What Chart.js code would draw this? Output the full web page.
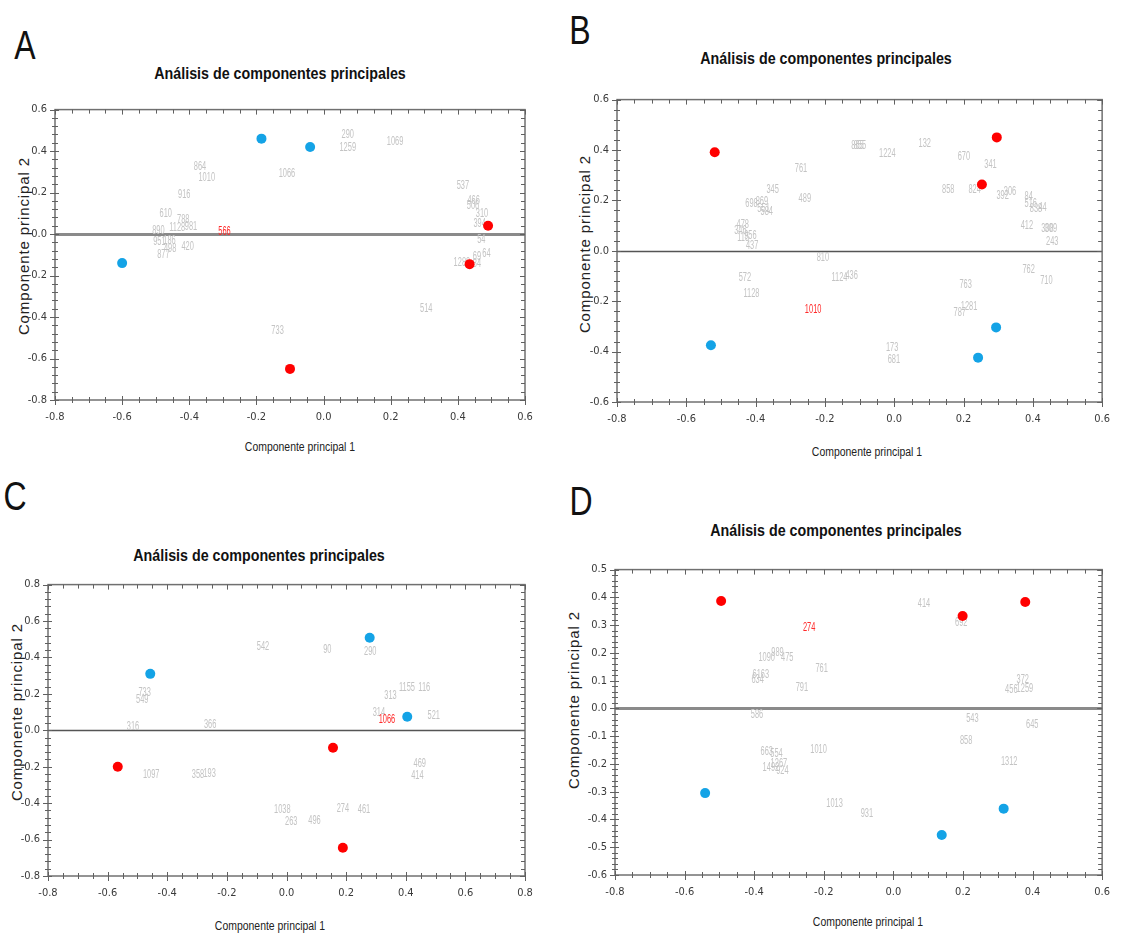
<!DOCTYPE html>
<html>
<head>
<meta charset="utf-8">
<script src="https://cdn.jsdelivr.net/npm/chart.js@4.4.1/dist/chart.umd.min.js"></script>
<style>
  html, body { margin: 0; padding: 0; background: #ffffff; }
  body { width: 1121px; height: 936px; position: relative; overflow: hidden;
         font-family: "Liberation Sans", Arial, sans-serif; }
  canvas { position: absolute; }
  .txt { position: absolute; white-space: nowrap; color: #111; line-height: 1; }
  .letter { font-size: 40px; font-weight: 400; color: #111; }
  .title { font-size: 17px; font-weight: bold; }
  .xlab { font-size: 12px; color: #222; }
  .ylab { font-size: 15px; color: #222; letter-spacing: 0.9px; }
</style>
</head>
<body>

<div class="txt letter" style="left:25px;top:45px;transform:translate(-50%,-50%) scaleX(0.8)">A</div>
<div class="txt letter" style="left:580px;top:30px;transform:translate(-50%,-50%) scaleX(0.8)">B</div>
<div class="txt letter" style="left:15px;top:496px;transform:translate(-50%,-50%) scaleX(0.8)">C</div>
<div class="txt letter" style="left:581px;top:501px;transform:translate(-50%,-50%) scaleX(0.8)">D</div>

<div class="txt title" style="left:280px;top:73px;transform:translate(-50%,-50%) scaleX(0.84)">Análisis de componentes principales</div>
<div class="txt title" style="left:826px;top:58px;transform:translate(-50%,-50%) scaleX(0.84)">Análisis de componentes principales</div>
<div class="txt title" style="left:259px;top:555px;transform:translate(-50%,-50%) scaleX(0.84)">Análisis de componentes principales</div>
<div class="txt title" style="left:836px;top:530px;transform:translate(-50%,-50%) scaleX(0.84)">Análisis de componentes principales</div>

<div class="txt xlab" style="left:300px;top:447px;transform:translate(-50%,-50%) scaleX(0.87)">Componente principal 1</div>
<div class="txt xlab" style="left:867px;top:452px;transform:translate(-50%,-50%) scaleX(0.87)">Componente principal 1</div>
<div class="txt xlab" style="left:270px;top:926px;transform:translate(-50%,-50%) scaleX(0.87)">Componente principal 1</div>
<div class="txt xlab" style="left:868px;top:922px;transform:translate(-50%,-50%) scaleX(0.87)">Componente principal 1</div>

<div class="txt ylab" style="left:23px;top:246px;transform:translate(-50%,-50%) rotate(-90deg)">Componente principal 2</div>
<div class="txt ylab" style="left:584px;top:244px;transform:translate(-50%,-50%) rotate(-90deg)">Componente principal 2</div>
<div class="txt ylab" style="left:16px;top:712px;transform:translate(-50%,-50%) rotate(-90deg)">Componente principal 2</div>
<div class="txt ylab" style="left:573px;top:700px;transform:translate(-50%,-50%) rotate(-90deg)">Componente principal 2</div>

<canvas id="panelA" width="560" height="350" style="left:0px;top:95px"></canvas>
<canvas id="panelB" width="556" height="355" style="left:565px;top:85px"></canvas>
<canvas id="panelC" width="560" height="345" style="left:0px;top:570px"></canvas>
<canvas id="panelD" width="556" height="360" style="left:565px;top:555px"></canvas>

<script>
// ---- Panel A: sample labels, reference points ----
const aNames = ['864','1010','916','610','788','1128','981','890','951','186','498','877','420','566','1066','733','290','1259','1069','537','466','506','310','394','54','64','69','1288','84','514'];
const aX = [-0.368,-0.348,-0.415,-0.47,-0.418,-0.436,-0.395,-0.492,-0.489,-0.459,-0.457,-0.477,-0.405,-0.295,-0.109,-0.137,0.072,0.072,0.213,0.415,0.447,0.445,0.472,0.465,0.47,0.485,0.457,0.412,0.457,0.306];
const aY = [0.326,0.27,0.191,0.10,0.07,0.03,0.034,0.018,-0.038,-0.033,-0.07,-0.099,-0.062,0.01,0.29,-0.466,0.48,0.416,0.443,0.231,0.163,0.135,0.099,0.05,-0.026,-0.094,-0.11,-0.137,-0.145,-0.358];
const aHighlight = ['566'];
const aRedX = [-0.1, 0.49, 0.435];
const aRedY = [-0.65, 0.04, -0.145];
const aBlueX = [-0.6, -0.185, -0.04];
const aBlueY = [-0.14, 0.46, 0.42];

// ---- Panel B ----
const bNames = ['761','345','489','698','869','584','551','478','346','115','956','437','810','572','1128','1124','436','1010','865','855','1224','132','670','341','858','824','392','306','84','516','838','44','412','308','309','243','762','710','763','1281','787','173','681'];
const bX = [-0.269,-0.351,-0.258,-0.412,-0.382,-0.368,-0.377,-0.437,-0.444,-0.436,-0.415,-0.41,-0.206,-0.431,-0.412,-0.158,-0.123,-0.234,-0.106,-0.099,-0.02,0.088,0.201,0.278,0.156,0.232,0.313,0.334,0.388,0.394,0.409,0.428,0.383,0.442,0.452,0.456,0.388,0.439,0.206,0.216,0.189,-0.006,-0.001];
const bY = [0.326,0.241,0.205,0.186,0.196,0.156,0.169,0.104,0.078,0.052,0.061,0.022,-0.026,-0.108,-0.17,-0.108,-0.098,-0.235,0.417,0.417,0.384,0.426,0.374,0.341,0.244,0.241,0.219,0.235,0.215,0.186,0.169,0.172,0.1,0.088,0.088,0.035,-0.076,-0.117,-0.135,-0.222,-0.244,-0.385,-0.434];
const bHighlight = ['1010'];
const bRedX = [-0.518, 0.296, 0.253];
const bRedY = [0.391, 0.45, 0.263];
const bBlueX = [-0.529, 0.294, 0.242];
const bBlueY = [-0.375, -0.304, -0.424];

// ---- Panel C ----
const cNames = ['733','549','316','366','1097','358','193','542','1038','263','90','290','313','1155','116','314','1066','521','469','414','274','461','496'];
const cX = [-0.476,-0.484,-0.515,-0.256,-0.454,-0.297,-0.258,-0.079,-0.014,0.016,0.137,0.281,0.349,0.404,0.462,0.31,0.337,0.494,0.447,0.439,0.189,0.26,0.094];
const cY = [0.205,0.166,0.022,0.029,-0.242,-0.245,-0.24,0.461,-0.438,-0.503,0.443,0.431,0.188,0.232,0.232,0.094,0.056,0.079,-0.185,-0.249,-0.431,-0.434,-0.494];
const cHighlight = ['1066'];
const cRedX = [-0.566, 0.156, 0.189];
const cRedY = [-0.2, -0.096, -0.645];
const cBlueX = [-0.457, 0.279, 0.405];
const cBlueY = [0.31, 0.508, 0.074];

// ---- Panel D ----
const dNames = ['274','1090','989','475','761','6163','634','791','586','663','554','1267','1492','924','1010','1013','414','692','372','456','1259','543','645','858','1312','931'];
const dX = [-0.242,-0.364,-0.333,-0.305,-0.206,-0.381,-0.39,-0.263,-0.392,-0.364,-0.336,-0.329,-0.352,-0.319,-0.215,-0.169,0.088,0.195,0.372,0.339,0.378,0.227,0.399,0.209,0.333,-0.076];
const dY = [0.29,0.181,0.199,0.183,0.143,0.121,0.104,0.076,-0.024,-0.156,-0.162,-0.2,-0.212,-0.226,-0.149,-0.343,0.377,0.308,0.104,0.068,0.071,-0.036,-0.057,-0.117,-0.192,-0.379];
const dHighlight = ['274'];
const dRedX = [-0.495, 0.199, 0.379];
const dRedY = [0.387, 0.333, 0.383];
const dBlueX = [-0.541, 0.317, 0.139];
const dBlueY = [-0.305, -0.361, -0.456];

// axis ranges: [min, max, major step, minor divisions]
const aXAxis = [-0.8, 0.6, 0.2, 4], aYAxis = [-0.8, 0.6, 0.2, 5];
const bXAxis = [-0.8, 0.6, 0.2, 4], bYAxis = [-0.6, 0.6, 0.2, 5];
const cXAxis = [-0.8, 0.8, 0.2, 4], cYAxis = [-0.8, 0.8, 0.2, 5];
const dXAxis = [-0.8, 0.6, 0.2, 4], dYAxis = [-0.6, 0.5, 0.1, 5];

const zip = (xs, ys) => xs.map((v, i) => ({ x: v, y: ys[i] }));

// frame, zero line, tick marks and sample labels
const pcaDecor = {
  id: 'pcaDecor',
  beforeDatasetsDraw(chart, args, opts) {
    const { ctx, chartArea: a, scales: { x, y } } = chart;
    ctx.save();
    // horizontal line at PC2 = 0
    const y0 = Math.round(y.getPixelForValue(0)) + 0.5;
    ctx.strokeStyle = opts.zeroColor;
    ctx.lineWidth = opts.zeroWidth;
    ctx.beginPath(); ctx.moveTo(a.left, y0); ctx.lineTo(a.right, y0); ctx.stroke();

    // frame
    ctx.strokeStyle = '#707070';
    ctx.lineWidth = 1.5;
    ctx.strokeRect(a.left, a.top, a.right - a.left, a.bottom - a.top);

    // tick marks on all four sides
    ctx.lineWidth = 1;
    ctx.strokeStyle = '#606060';
    const drawTicks = (scale, ax, horizontal) => {
      const [mn, mx, step, div] = ax;
      const minor = step / div;
      const n = Math.round((mx - mn) / minor);
      ctx.beginPath();
      for (let i = 0; i <= n; i++) {
        const v = mn + i * minor;
        const p = Math.round(scale.getPixelForValue(v)) + 0.5;
        const major = i % div === 0;
        const out = major ? 5 : 3;
        const inn = major ? 4 : 3;
        if (horizontal) {
          ctx.moveTo(p, a.bottom - inn); ctx.lineTo(p, a.bottom + out);
          ctx.moveTo(p, a.top); ctx.lineTo(p, a.top + inn + 1);
        } else {
          ctx.moveTo(a.left - out, p); ctx.lineTo(a.left + inn, p);
          ctx.moveTo(a.right - inn - 1, p); ctx.lineTo(a.right, p);
        }
      }
      ctx.stroke();
    };
    drawTicks(x, opts.xAxis, true);
    drawTicks(y, opts.yAxis, false);

    // sample labels, narrow grey text centred on their coordinates
    const meta = chart.getDatasetMeta(0);
    const names = chart.data.datasets[0].names;
    ctx.textAlign = 'center';
    ctx.textBaseline = 'middle';
    ctx.font = '12px "Liberation Sans", Arial, sans-serif';
    meta.data.forEach((el, i) => {
      const hl = opts.highlight.includes(names[i]);
      ctx.fillStyle = hl ? '#ff2a2a' : '#c4c4c4';
      ctx.save();
      ctx.translate(el.x, el.y);
      ctx.scale(0.62, 1);
      ctx.fillText(names[i], 0, 0);
      ctx.restore();
    });
    ctx.restore();
  }
};

const tickFont = { family: '"Liberation Sans Narrow", "DejaVu Sans Condensed", "Arial Narrow", "Liberation Sans", sans-serif', size: 11 };
const fmt = v => (Math.abs(v) < 1e-9 ? '0.0' : Number(v).toFixed(1));

function makePanel(id, canvasBox, plot, names, xs, ys, redX, redY, blueX, blueY, highlight, xAxis, yAxis, zeroColor, zeroWidth) {
  const yW = 40, xH = 30;
  const padding = {
    left: plot.L - canvasBox.left - yW,
    top: plot.T - canvasBox.top,
    right: canvasBox.left + canvasBox.width - plot.R,
    bottom: canvasBox.top + canvasBox.height - plot.B - xH
  };
  new Chart(document.getElementById(id), {
    type: 'scatter',
    data: {
      datasets: [
        { names: names, data: zip(xs, ys), pointRadius: 0, pointHoverRadius: 0, backgroundColor: 'rgba(0,0,0,0)', borderWidth: 0 },
        { data: zip(redX, redY), pointRadius: 5, backgroundColor: '#ff0000', borderColor: '#ff0000', borderWidth: 0 },
        { data: zip(blueX, blueY), pointRadius: 5, backgroundColor: '#14a3e6', borderColor: '#14a3e6', borderWidth: 0 }
      ]
    },
    options: {
      responsive: false,
      animation: false,
      devicePixelRatio: 1,
      layout: { padding },
      plugins: {
        legend: { display: false },
        tooltip: { enabled: false },
        pcaDecor: { xAxis, yAxis, highlight, zeroColor, zeroWidth }
      },
      scales: {
        x: {
          type: 'linear', min: xAxis[0], max: xAxis[1],
          afterFit: s => { s.height = xH; },
          grid: { display: false, drawTicks: false, tickLength: 0 },
          border: { display: false },
          ticks: { stepSize: xAxis[2], padding: 11, font: tickFont, color: '#3a3a3a', callback: fmt, maxRotation: 0, autoSkip: false }
        },
        y: {
          type: 'linear', min: yAxis[0], max: yAxis[1],
          afterFit: s => { s.width = yW; },
          grid: { display: false, drawTicks: false, tickLength: 0 },
          border: { display: false },
          ticks: { stepSize: yAxis[2], padding: 8, font: tickFont, color: '#3a3a3a', callback: fmt, autoSkip: false }
        }
      }
    },
    plugins: [pcaDecor]
  });
}

makePanel('panelA', { left: 0, top: 95, width: 560, height: 350 }, { L: 55, T: 109, R: 525, B: 400 },
  aNames, aX, aY, aRedX, aRedY, aBlueX, aBlueY, aHighlight, aXAxis, aYAxis, '#8a8a8a', 3);
makePanel('panelB', { left: 565, top: 85, width: 556, height: 355 }, { L: 617, T: 95, R: 1110, B: 402 },
  bNames, bX, bY, bRedX, bRedY, bBlueX, bBlueY, bHighlight, bXAxis, bYAxis, '#555555', 1.5);
makePanel('panelC', { left: 0, top: 570, width: 560, height: 345 }, { L: 48, T: 580, R: 525, B: 876 },
  cNames, cX, cY, cRedX, cRedY, cBlueX, cBlueY, cHighlight, cXAxis, cYAxis, '#555555', 1.5);
makePanel('panelD', { left: 565, top: 555, width: 556, height: 360 }, { L: 615, T: 567, R: 1110, B: 875 },
  dNames, dX, dY, dRedX, dRedY, dBlueX, dBlueY, dHighlight, dXAxis, dYAxis, '#8a8a8a', 3);
</script>
</body>
</html>
